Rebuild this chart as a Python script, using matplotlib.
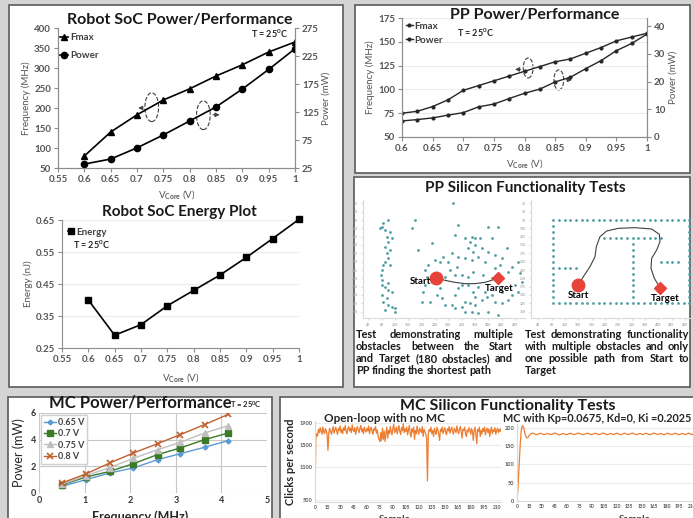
import numpy as np
import matplotlib as mpl
mpl.use('Agg')
import matplotlib.pyplot as plt
from matplotlib.patches import Rectangle, Ellipse
from matplotlib.ticker import FuncFormatter, MaxNLocator

plt.rcParams['font.family'] = ['Lato', 'DejaVu Sans']
plt.rcParams['font.weight'] = 'bold'
plt.rcParams['mathtext.fontset'] = 'custom'
plt.rcParams['mathtext.rm'] = 'Lato'
plt.rcParams['mathtext.bf'] = 'Lato:bold'
plt.rcParams['mathtext.default'] = 'bf'

# ---------------- data ----------------
vcore = [0.6, 0.65, 0.7, 0.75, 0.8, 0.85, 0.9, 0.95, 1.0]
soc_fmax = [80, 140, 183, 220, 248, 280, 308, 340, 365]
soc_power = [32, 41, 61, 84, 109, 134, 166, 201, 238]
soc_energy = [0.40, 0.29, 0.323, 0.382, 0.43, 0.478, 0.533, 0.592, 0.652]
soc_xticks = [0.55, 0.6, 0.65, 0.7, 0.75, 0.8, 0.85, 0.9, 0.95, 1.0]

pp_vcore = [0.6, 0.625, 0.65, 0.675, 0.7, 0.725, 0.75, 0.775, 0.8,
            0.825, 0.85, 0.875, 0.9, 0.925, 0.95, 0.975, 1.0]
pp_fmax = [75, 77, 82, 89, 99, 104, 109, 114, 119, 124, 129, 132, 138, 144, 151, 155, 159]
pp_power = [5.8, 6.3, 6.9, 7.9, 8.8, 10.9, 11.9, 13.9, 15.8, 17.3, 19.9, 21.6,
            24.7, 27.6, 31.2, 33.8, 37.2]
pp_xticks = [0.6, 0.65, 0.7, 0.75, 0.8, 0.85, 0.9, 0.95, 1.0]

mc_freq = [0.5, 1.03, 1.55, 2.07, 2.6, 3.1, 3.63, 4.15]
mc_065 = [0.5, 1.0, 1.5, 1.88, 2.5, 2.95, 3.43, 3.93]
mc_070 = [0.6, 1.2, 1.62, 2.2, 2.88, 3.38, 4.0, 4.5]
mc_075 = [0.65, 1.3, 1.9, 2.6, 3.25, 3.8, 4.5, 5.05]
mc_080 = [0.75, 1.43, 2.25, 3.0, 3.7, 4.38, 5.13, 5.9]

# obstacle map, left test (image coordinates)
obs_x = [85, 80, 75, 90, 100, 105, 95, 110, 100, 90, 105, 95, 100, 90, 85, 105, 80, 78,
         80, 80, 90, 100, 100, 110, 80, 95, 85, 100, 110, 120, 90, 120,
         180, 170, 295, 230, 190, 300, 310, 400, 430, 410, 330, 350, 360, 375, 345, 360,
         340, 355, 380, 400, 420, 440, 455, 490, 470, 495, 500, 480, 460, 435, 420, 390,
         370, 350, 330, 310, 290, 280, 265, 255, 240, 220, 210, 215, 230, 210, 205, 200,
         225, 260, 270, 290, 300, 320, 330, 345, 360, 380, 395, 410, 420, 440, 460, 470,
         490, 300, 310, 320, 340, 355, 370, 390, 300, 320, 340, 355, 305, 285, 270, 255,
         245, 330, 350, 370, 400, 430, 360, 440, 385, 410, 430]
obs_y = [85, 95, 100, 105, 75, 110, 125, 130, 140, 155, 165, 175, 190, 200, 210, 210, 225, 240,
         255, 270, 275, 265, 285, 290, 300, 310, 320, 330, 335, 340, 345, 350,
         75, 100, 25, 145, 165, 120, 90, 95, 95, 130, 130, 125, 128, 130, 140, 150,
         160, 170, 160, 170, 180, 190, 160, 200, 215, 235, 260, 270, 230, 210, 220, 200,
         185, 195, 190, 185, 175, 200, 185, 200, 195, 210, 225, 245, 260, 270, 290, 320,
         320, 310, 330, 330, 340, 335, 320, 325, 330, 315, 305, 300, 320, 325, 315, 300,
         290, 300, 280, 270, 270, 290, 275, 290, 240, 240, 245, 230, 215, 225, 245, 280,
         300, 350, 350, 355, 350, 360, 305, 290, 240, 250, 255]
left_start = (243, 248)
left_target = (428, 248)
left_path_x = [243, 270, 300, 330, 360, 390, 410, 428]
left_path_y = [248, 256, 262, 266, 266, 262, 256, 248]

# maze, right test (image coordinates)
maze_cols = [85, 102, 119, 136, 153, 170, 187, 204, 221, 238, 255, 272, 289,
             306, 323, 340, 357, 374, 391, 408, 425, 442, 459, 476, 493]
maze_rows = [75, 93, 111, 129, 146, 164, 182, 200, 218, 236, 254, 271, 289, 307, 325]
right_start = (160, 270)
right_target = (405, 278)
right_path_x = [160, 175, 195, 210, 214, 225, 245, 280, 330, 380, 403, 405, 395, 380, 378, 388, 405]
right_path_y = [270, 245, 215, 185, 155, 125, 108, 100, 98, 102, 118, 140, 165, 190, 220, 250, 278]

open_loop = [
    500, 1620, 1700, 1660, 1780, 1720, 1810, 1750, 1690, 1820, 1740, 1700, 1790, 1760, 1680,
    1400, 1720, 1800, 1740, 1690, 1760, 1830, 1710, 1770, 1820, 1750, 1690, 1800, 1760, 1840,
    1720, 1780, 1700, 1810, 1760, 1850, 1740, 1700, 1790, 1830, 1750, 1800, 1720, 1860, 1770,
    1740, 1810, 1690, 1780, 1830, 1760, 1720, 1800, 1850, 1740, 1790, 1700, 1820, 1760, 1730,
    1800, 1750, 1840, 1700, 1780, 1820, 1740, 1690, 1790, 1760, 1830, 1710, 1770, 1650, 1600,
    1560, 1720, 1580, 1800, 1600, 1750, 1560, 1700, 1820, 1620, 1760, 1700, 1830, 1740, 1680,
    1800, 1870, 1720, 1760, 1820, 1700, 1780, 1850, 1740, 1690, 1810, 1760, 1880, 1720, 1790,
    1740, 1820, 1680, 1760, 1850, 1710, 1640, 1790, 1730, 1820, 1600, 1760, 1700, 1840, 1750,
    1690, 1800, 1760, 1720, 1830, 1650, 1780, 1740, 1700, 1620, 850, 1700, 1780, 1740, 1820,
    1700, 1760, 1650, 1800, 1740, 1690, 1820, 1760, 1700, 1580, 1780, 1740, 1820, 1700, 1760,
    1810, 1730, 1680, 1790, 1750, 1830, 1710, 1770, 1820, 1740, 1690, 1800, 1760, 1720, 1840,
    1750, 1700, 1790, 1830, 1740, 1620, 1780, 1760, 1820, 1700, 1650, 1770, 1730, 1810, 1760,
    1690, 1800, 1740, 1580, 1760, 1820, 1700, 1520, 1780, 1740, 1820, 1650, 1760, 1700, 1800,
    1740, 1820, 1680, 1760, 1800, 1720, 1790, 1650, 1760, 1820, 1700, 1770, 1740, 1810, 1690,
    1760, 1800, 1720, 1780, 1740, 1790]

closed_loop = [
    0, 30, 75, 120, 160, 190, 203, 205, 200, 190, 180, 174, 172, 173, 176, 179, 182, 184, 185, 185,
    184, 183, 182, 181, 181, 182, 183, 184, 185, 184, 183, 182, 181, 181, 182, 183, 184, 184, 183, 182,
    182, 181, 182, 183, 184, 185, 185, 184, 183, 182, 181, 180, 181, 182, 183, 184, 184, 183, 182, 181,
    181, 182, 183, 184, 185, 184, 183, 182, 182, 181, 182, 183, 184, 185, 185, 184, 183, 183, 182, 181,
    181, 182, 183, 184, 184, 185, 184, 183, 182, 181, 181, 182, 183, 184, 185, 184, 183, 182, 182, 181,
    182, 183, 184, 185, 185, 184, 183, 182, 181, 181, 182, 183, 184, 184, 183, 182, 181, 182, 183, 184,
    185, 184, 183, 182, 181, 181, 182, 183, 184, 185, 184, 183, 182, 182, 181, 182, 183, 184, 185, 185,
    184, 183, 182, 181, 181, 182, 183, 184, 184, 183, 182, 181, 182, 183, 184, 185, 184, 183, 182, 181,
    181, 182, 183, 184, 185, 185, 184, 183, 182, 181, 182, 183, 184, 184, 183, 182, 181, 181, 182, 183,
    184, 185, 184, 183, 182, 182, 181, 182, 183, 184, 185, 184, 183, 182, 181, 181, 182, 183, 184, 184,
    183, 182, 181, 182, 183, 184, 185, 184, 183, 182, 181, 182, 183, 184, 184, 183]
sample_ticks = [0, 15, 30, 45, 60, 75, 90, 105, 120, 135, 150, 165, 180, 195, 210]

# ---------------- layout helpers ----------------
W, H = 693, 518
fig = plt.figure(figsize=(W / 100, H / 100), dpi=100)
fig.patch.set_facecolor('#d4d4d4')


def box(x0, y0, x1, y1):
    fig.patches.append(Rectangle((x0 / W, 1 - y1 / H), (x1 - x0) / W, (y1 - y0) / H,
                                 transform=fig.transFigure, fc='white', ec='#5a5a5a',
                                 lw=1.2, zorder=-5))


def axes_px(x0, y0, x1, y1):
    ax = fig.add_axes([x0 / W, 1 - y1 / H, (x1 - x0) / W, (y1 - y0) / H])
    ax.patch.set_alpha(0)
    return ax


def ftext(x, y, s, **kw):
    kw.setdefault('va', 'center')
    return fig.text(x / W, 1 - y / H, s, **kw)


def style(ax, spines=('left', 'bottom'), size=7):
    for s in ax.spines:
        ax.spines[s].set_visible(s in spines)
        ax.spines[s].set_color('#8c8c8c')
        ax.spines[s].set_linewidth(0.8)
    ax.tick_params(labelsize=size, labelcolor='#555555', color='#8c8c8c',
                   length=3, width=0.8, direction='out', pad=2)


fmt = FuncFormatter(lambda v, p: '%g' % round(v, 3))

box(9, 5, 343, 387)
box(355, 5, 690, 173)
box(354, 177, 690, 387)
box(8, 397, 272, 530)
box(280, 397, 700, 530)

# ---------------- Robot SoC power / performance ----------------
ax1 = axes_px(58, 28, 295, 168)
ax1b = ax1.twinx()
l1, = ax1.plot(vcore, soc_fmax, '-^', color='black', ms=4.5, lw=1.2)
l2, = ax1b.plot(vcore, soc_power, '-o', color='black', ms=4.5, lw=1.2)
ax1.set_xlim(0.55, 1.0)
ax1.set_ylim(50, 400)
ax1b.set_ylim(25, 275)
ax1.set_xticks(soc_xticks)
ax1.xaxis.set_major_formatter(fmt)
ax1.set_yticks([50, 100, 150, 200, 250, 300, 350, 400])
ax1b.set_yticks([25, 75, 125, 175, 225, 275])
style(ax1, ('left', 'bottom', 'right'))
style(ax1b, ('left', 'bottom', 'right'))
ax1.set_ylabel('Frequency (MHz)', fontsize=7, color='#555555', labelpad=2)
ax1b.set_ylabel('Power (mW)', fontsize=7, color='#555555', labelpad=2)
ax1.set_xlabel(r'V$_{Core}$ (V)', fontsize=7, color='#555555', labelpad=3)
ax1.legend([l1, l2], ['Fmax', 'Power'], loc='upper left', bbox_to_anchor=(-0.01, 0.99),
           frameon=False, fontsize=7, handlelength=0.9, handletextpad=0.2,
           labelspacing=0.9, borderaxespad=0, labelcolor='#404040')
ax1.add_patch(Ellipse((0.728, 202), 0.026, 72, fill=False, ls='--', lw=0.8, ec='#404040'))
ax1.add_patch(Ellipse((0.826, 182), 0.026, 72, fill=False, ls='--', lw=0.8, ec='#404040'))
ax1.annotate('', xy=(0.697, 200), xytext=(0.716, 200),
             arrowprops=dict(arrowstyle='-|>', lw=0.8, color='#404040', mutation_scale=6))
ax1.annotate('', xy=(0.862, 183), xytext=(0.839, 183),
             arrowprops=dict(arrowstyle='-|>', lw=0.8, color='#404040', mutation_scale=6))
ftext(180, 20, 'Robot SoC Power/Performance', ha='center', fontsize=11.5, color='#1a1a1a')
ftext(288, 34, r'T = 25$^{0}$C', ha='right', fontsize=6.5, color='#262626')

# ---------------- Robot SoC energy ----------------
ax2 = axes_px(62, 220, 299, 348)
l3, = ax2.plot(vcore, soc_energy, '-s', color='black', ms=4.5, lw=1.2, clip_on=False)
ax2.set_xlim(0.55, 1.0)
ax2.set_ylim(0.25, 0.65)
ax2.set_xticks(soc_xticks)
ax2.xaxis.set_major_formatter(fmt)
ax2.set_yticks([0.25, 0.35, 0.45, 0.55, 0.65])
ax2.yaxis.set_major_formatter(fmt)
ax2.grid(axis='y', color='#ebebeb', lw=0.8)
ax2.set_axisbelow(True)
style(ax2)
ax2.set_ylabel('Energy (nJ)', fontsize=7, color='#555555', labelpad=2)
ax2.set_xlabel(r'V$_{Core}$ (V)', fontsize=7, color='#555555', labelpad=5)
ax2.legend([l3], ['Energy'], loc='upper left', bbox_to_anchor=(0.01, 0.97),
           frameon=False, fontsize=7, handlelength=0.6, handletextpad=0.2,
           borderaxespad=0, labelcolor='#404040')
ftext(179, 212, 'Robot SoC Energy Plot', ha='center', fontsize=11, color='#1a1a1a')
ftext(73, 245, r'T = 25$^{0}$C', ha='left', fontsize=6.5, color='#262626')

# ---------------- PP power / performance ----------------
ax3 = axes_px(402, 18, 647, 137)
ax3b = ax3.twinx()
l4, = ax3.plot(pp_vcore, pp_fmax, '-o', color='#262626', ms=2, lw=1.0)
l5, = ax3b.plot(pp_vcore, pp_power, '-o', color='#262626', ms=2, lw=1.0)
ax3.set_xlim(0.6, 1.0)
ax3.set_ylim(50, 175)
ax3b.set_ylim(0, 43)
ax3.set_xticks(pp_xticks)
ax3.xaxis.set_major_formatter(fmt)
ax3.set_yticks([50, 75, 100, 125, 150, 175])
ax3b.set_yticks([0, 10, 20, 30, 40])
ax3.grid(axis='y', color='#ebebeb', lw=0.8)
style(ax3, ('left', 'bottom', 'right'))
style(ax3b, ('left', 'bottom', 'right'))
ax3.set_ylabel('Frequency (MHz)', fontsize=7, color='#555555', labelpad=2)
ax3b.set_ylabel('Power (mW)', fontsize=7, color='#555555', labelpad=2)
ax3.set_xlabel(r'V$_{Core}$ (V)', fontsize=7, color='#555555', labelpad=3)
ax3.legend([l4, l5], ['Fmax', 'Power'], loc='upper left', bbox_to_anchor=(0.0, 1.0),
           frameon=False, fontsize=7, handlelength=0.7, handletextpad=0.2,
           labelspacing=0.5, borderaxespad=0, labelcolor='#404040')
ax3.add_patch(Ellipse((0.806, 122.5), 0.016, 21, fill=False, ls='--', lw=0.8, ec='#404040'))
ax3.add_patch(Ellipse((0.856, 110), 0.016, 21, fill=False, ls='--', lw=0.8, ec='#404040'))
ax3.annotate('', xy=(0.78, 121), xytext=(0.798, 121),
             arrowprops=dict(arrowstyle='-|>', lw=0.8, color='#404040', mutation_scale=6))
ax3.annotate('', xy=(0.882, 110), xytext=(0.864, 110),
             arrowprops=dict(arrowstyle='-|>', lw=0.8, color='#404040', mutation_scale=6))
ftext(535, 15, 'PP Power/Performance', ha='center', fontsize=11.5, color='#1a1a1a')
ftext(457, 33, r'T = 25$^{0}$C', ha='left', fontsize=6.5, color='#262626')

# ---------------- PP silicon tests ----------------
ftext(525, 188, 'PP Silicon Functionality Tests', ha='center', fontsize=11, color='#1a1a1a')
dot_c = '#4f9ea3'
red = '#e8433b'

ax4 = axes_px(363, 200, 525, 318)
ax4.plot(obs_x, obs_y, 'o', ms=2.0, color=dot_c, mew=0)
ax4.plot(left_path_x, left_path_y, color='#404040', lw=0.8)
ax4.plot(*left_start, 'o', ms=9, color=red)
ax4.plot(*left_target, 'D', ms=6, color=red)
ax4.text(left_start[0] - 15, left_start[1] + 10, 'Start', ha='right', va='center', fontsize=7)
ax4.text(left_target[0] + 5, left_target[1] + 32, 'Target', ha='center', va='center', fontsize=7)
ax4.set_xlim(24, 510)
ax4.set_ylim(369, 15)

ax5 = axes_px(531, 200, 699, 318)
wall_x, wall_y = [], []
for c in maze_cols:
    wall_x += [c, c]
    wall_y += [maze_rows[0], maze_rows[-1]]
for r in maze_rows[1:-1]:
    wall_x += [maze_cols[0], maze_cols[-1]]
    wall_y += [r, r]
for c in maze_cols[9:20]:
    wall_x.append(c)
    wall_y.append(maze_rows[3])
for r in maze_rows[4:-1]:
    wall_x.append(maze_cols[14])
    wall_y.append(r)
for c in maze_cols[1:5]:
    wall_x.append(c)
    wall_y.append(maze_rows[8])
for c in maze_cols[19:23]:
    wall_x.append(c)
    wall_y.append(maze_rows[7])
ax5.plot(wall_x, wall_y, 'o', ms=2.0, color=dot_c, mew=0)
ax5.plot(right_path_x, right_path_y, color='#404040', lw=0.8)
ax5.plot(*right_start, 'o', ms=9, color=red)
ax5.plot(*right_target, 'D', ms=6, color=red)
ax5.text(right_start[0], right_start[1] + 32, 'Start', ha='center', va='center', fontsize=7)
ax5.text(right_target[0] + 15, right_target[1] + 32, 'Target', ha='center', va='center', fontsize=7)
ax5.set_xlim(18, 522)
ax5.set_ylim(369, 15)

for ax in (ax4, ax5):
    style(ax, size=2.5)
    ax.spines['left'].set_color('#d9d9d9')
    ax.spines['bottom'].set_color('#d9d9d9')
    ax.tick_params(length=1.5, color='#d9d9d9', labelcolor='#aaaaaa')
    ax.xaxis.set_major_locator(MaxNLocator(16))
    ax.yaxis.set_major_locator(MaxNLocator(16))

renderer = fig.canvas.get_renderer()


def justify(lines, x0, x1, y0, dy, size=7.9):
    for i, line in enumerate(lines):
        words = line.split()
        texts = [ftext(0, y0 + i * dy, w, fontsize=size, color='#1a1a1a') for w in words]
        widths = [t.get_window_extent(renderer).width for t in texts]
        if i < len(lines) - 1 and len(words) > 1:
            gap = max((x1 - x0 - sum(widths)) / (len(words) - 1), 1.5)
        else:
            gap = size * 0.3
        x = x0
        for t, w in zip(texts, widths):
            t.set_x(x / W)
            x += w + gap


justify(['Test demonstrating multiple', 'obstacles between the Start',
         'and Target (180 obstacles) and', 'PP finding the shortest path'],
        356, 513, 334, 12.3)
justify(['Test demonstrating functionality', 'with multiple obstacles and only',
         'one possible path from Start to', 'Target'],
        525, 689, 334, 12.3)

# ---------------- MC power / performance ----------------
ax6 = axes_px(39, 413, 267, 493)
ax6.plot(mc_freq, mc_065, '-D', color='#5b9bd5', ms=2.5, lw=1.0, label='0.65 V')
ax6.plot(mc_freq, mc_070, '-s', color='#3b7a26', ms=4, lw=1.0, label='0.7 V')
ax6.plot(mc_freq, mc_075, '-^', color='#bfbfbf', ms=4, lw=1.0, label='0.75 V')
ax6.plot(mc_freq, mc_080, '-x', color='#c0602f', ms=4, mew=1.2, lw=1.0, label='0.8 V')
ax6.set_xlim(0, 5)
ax6.set_ylim(0, 6)
ax6.set_xticks([0, 1, 2, 3, 4, 5])
ax6.set_yticks([0, 2, 4, 6])
ax6.grid(color='#c8c8c8', lw=0.8)
style(ax6, (), size=6.5)
ax6.tick_params(length=0, labelcolor='#333333')
ax6.legend(loc='upper left', bbox_to_anchor=(0.01, 0.97), fontsize=6.5, frameon=True,
           fancybox=False, edgecolor='#d0d0d0', framealpha=1, handlelength=1.3,
           handletextpad=0.2, labelspacing=0.25, borderpad=0.3, borderaxespad=0,
           labelcolor='#404040')
ax6.set_ylabel('Power (mW)', fontsize=9, color='#262626', labelpad=4)
ftext(140, 403, 'MC Power/Performance', ha='center', fontsize=12, color='#1a1a1a')
ftext(230, 404, r'T = 25$^{0}$C', ha='left', fontsize=5.5, color='#262626')
ftext(140, 517, 'Frequency (MHz)', ha='center', fontsize=9, color='#262626')

# ---------------- MC silicon tests ----------------
ftext(508, 406, 'MC Silicon Functionality Tests', ha='center', fontsize=11.5, color='#1a1a1a')

ax7 = axes_px(315, 421, 501, 502)
ax7.plot(range(len(open_loop)), open_loop, color='#ed7d31', lw=0.9)
ax7.set_xlim(0, 215)
ax7.set_ylim(470, 1930)
ax7.set_yticks([500, 1100, 1500, 1900])
ax7.set_xticks(sample_ticks)
ax7.grid(axis='y', color='#ececec', lw=0.8)
ax7.set_axisbelow(True)
style(ax7, ('left', 'bottom'), size=4)
ax7.spines['left'].set_color('#d9d9d9')
ax7.spines['bottom'].set_color('#d9d9d9')
ax7.tick_params(axis='x', labelsize=3.5, length=0)
ax7.tick_params(axis='y', length=0)
ftext(385, 418, 'Open-loop with no MC', ha='center', fontsize=8.5, color='#262626')
ftext(290, 462, 'Clicks per second', ha='center', rotation=90, fontsize=8, color='#262626')
ftext(395, 519, 'Sample', ha='center', fontsize=7, color='#404040')

ax8 = axes_px(517, 424, 696, 501)
ax8.plot(range(len(closed_loop)), closed_loop, color='#ed7d31', lw=0.9)
ax8.set_xlim(0, 215)
ax8.set_ylim(0, 210)
ax8.set_yticks([0, 50, 100, 150, 200])
ax8.set_xticks(sample_ticks)
ax8.grid(axis='y', color='#ececec', lw=0.8)
ax8.set_axisbelow(True)
style(ax8, ('left', 'bottom'), size=4)
ax8.spines['left'].set_color('#d9d9d9')
ax8.spines['bottom'].set_color('#d9d9d9')
ax8.tick_params(axis='x', labelsize=3.5, length=0)
ax8.tick_params(axis='y', length=0)
ftext(597, 418, 'MC with Kp=0.0675, Kd=0, Ki =0.2025', ha='center', fontsize=7.8, color='#262626')
ftext(635, 519, 'Sample', ha='center', fontsize=7, color='#404040')

fig.savefig('out.png', dpi=100, facecolor=fig.get_facecolor())
